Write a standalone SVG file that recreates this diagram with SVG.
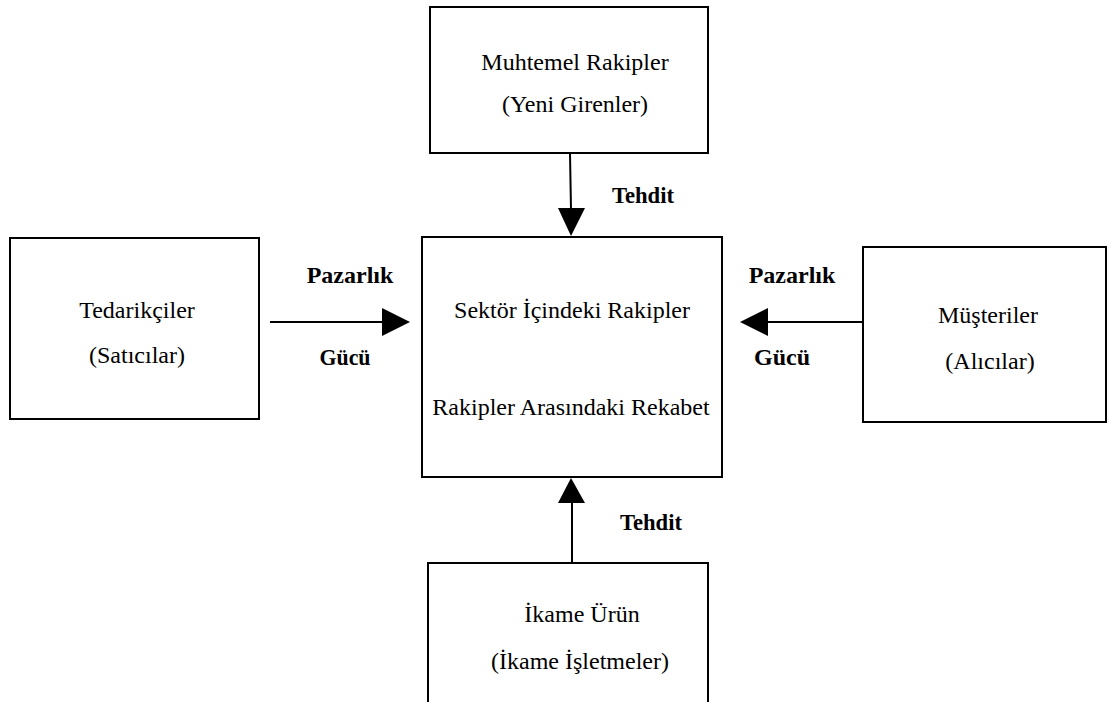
<svg xmlns="http://www.w3.org/2000/svg" width="1111" height="702" viewBox="0 0 1111 702">
<style>
.box{fill:#fff;stroke:#000;stroke-width:2}
.t{font-family:"Liberation Serif","Times New Roman",serif;font-size:24px;fill:#000;text-anchor:middle}
.b{font-family:"Liberation Serif","Times New Roman",serif;font-size:24px;font-weight:bold;fill:#000;text-anchor:middle}
.ln{stroke:#000;stroke-width:2;fill:none}
.ah{fill:#000}
</style>
<rect width="1111" height="702" fill="#fff"/>
<g id="node-top">
<rect class="box" x="430" y="7" width="278" height="146"/>
<text class="t" x="575" y="70">Muhtemel Rakipler</text>
<text class="t" x="575" y="112">(Yeni Girenler)</text>
</g>
<g id="node-center">
<rect class="box" x="422" y="237" width="300" height="240"/>
<text class="t" x="572" y="318">Sektör İçindeki Rakipler</text>
<text class="t" x="571" y="415">Rakipler Arasındaki Rekabet</text>
</g>
<g id="node-left">
<rect class="box" x="10" y="238" width="249" height="181"/>
<text class="t" x="137" y="318">Tedarikçiler</text>
<text class="t" x="137" y="363">(Satıcılar)</text>
</g>
<g id="node-right">
<rect class="box" x="863" y="247" width="243" height="175"/>
<text class="t" x="988" y="323">Müşteriler</text>
<text class="t" x="990" y="369">(Alıcılar)</text>
</g>
<g id="node-bottom">
<path class="box" d="M428,703 V563 H708 V703"/>
<text class="t" x="582" y="622">İkame Ürün</text>
<text class="t" x="580" y="669">(İkame İşletmeler)</text>
</g>
<g id="connectors">
<line class="ln" x1="570" y1="153" x2="571" y2="210"/>
<polygon class="ah" points="558,208 585,208 571,236"/>
<text class="b" x="643" y="203" textLength="62" lengthAdjust="spacingAndGlyphs">Tehdit</text>
<line class="ln" x1="270" y1="322" x2="384" y2="322"/>
<polygon class="ah" points="382,308 382,336 410,322"/>
<text class="b" x="350" y="283">Pazarlık</text>
<text class="b" x="345" y="365" textLength="51" lengthAdjust="spacingAndGlyphs">Gücü</text>
<line class="ln" x1="862" y1="322" x2="766" y2="322"/>
<polygon class="ah" points="768,308 768,336 740,322"/>
<text class="b" x="792" y="283">Pazarlık</text>
<text class="b" x="782" y="365">Gücü</text>
<line class="ln" x1="572" y1="563" x2="572" y2="501"/>
<polygon class="ah" points="558,503 585,503 571,478"/>
<text class="b" x="651" y="530" textLength="62" lengthAdjust="spacingAndGlyphs">Tehdit</text>
</g>
</svg>
